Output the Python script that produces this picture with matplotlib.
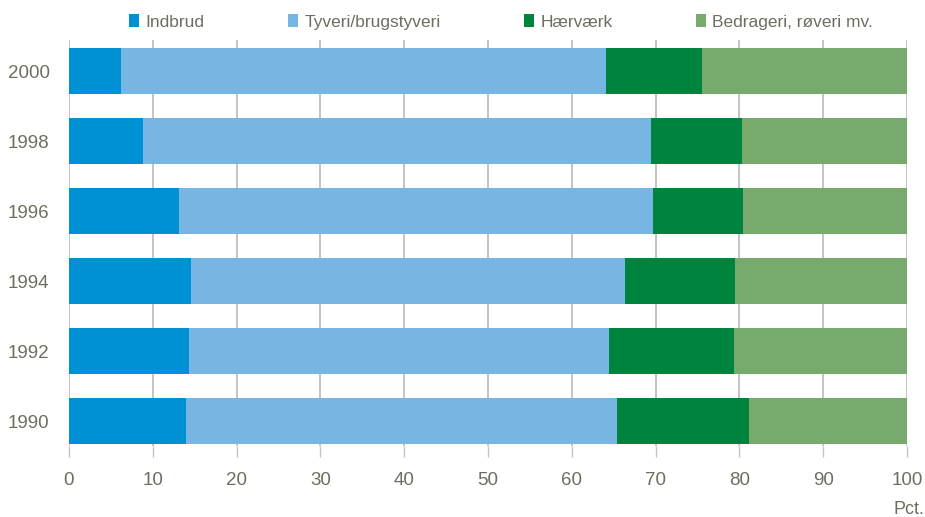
import matplotlib
matplotlib.use("Agg")
import matplotlib.pyplot as plt

years = ["1990", "1992", "1994", "1996", "1998", "2000"]
series_names = ["Indbrud", "Tyveri/brugstyveri", "Hærværk", "Bedrageri, røveri mv."]
indbrud = [14.0, 14.3, 14.6, 13.1, 8.8, 6.2]
tyveri = [51.4, 50.1, 51.7, 56.6, 60.7, 57.9]
haervaerk = [15.7, 15.0, 13.2, 10.7, 10.8, 11.4]
bedrageri = [18.9, 20.6, 20.5, 19.6, 19.7, 24.5]
colors = ["#0090d4", "#77b5e3", "#00843d", "#78aa6e"]
xticks = [0, 10, 20, 30, 40, 50, 60, 70, 80, 90, 100]

plt.rcParams['font.family'] = ['Liberation Sans', 'DejaVu Sans']
txt = "#6e6e60"

fig = plt.figure(figsize=(9.25, 5.17), dpi=100)
ax = fig.add_axes([69/925, (517-446)/517, (907-69)/925, 406/517])

ypos = list(range(len(years)))
left = [0]*len(years)
handles = []
for name, vals, c in zip(series_names, [indbrud, tyveri, haervaerk, bedrageri], colors):
    h = ax.barh(ypos, vals, left=left, height=0.67, color=c, edgecolor="none", label=name, zorder=3)
    handles.append(h)
    left = [l + v for l, v in zip(left, vals)]

ax.set_xlim(0, 100)
ax.set_ylim(-0.357, 5.443)
ax.set_xticks(xticks)
ax.set_xticklabels([str(t) for t in xticks])
ax.set_yticks(ypos)
ax.set_yticklabels(years)
for s in ax.spines.values():
    s.set_visible(False)
ax.grid(axis="x", color="#c4c4c4", linewidth=1.4, zorder=0)
ax.tick_params(axis="x", length=8, width=1.0, color="#c4c4c4", pad=11, labelsize=13.5, labelcolor=txt)
ax.tick_params(axis="y", length=0, pad=14, labelsize=13.5, labelcolor=txt)

fig.text(924/925, 1 - 510/517, "Pct.", ha="right", va="center", fontsize=13, color=txt)

leg = fig.legend(handles=handles, labels=series_names, loc="center left",
                 bbox_to_anchor=(129/925, 1 - 22/517), ncol=4, frameon=False,
                 borderpad=0, borderaxespad=0,
                 fontsize=12.5, handlelength=0.6, handleheight=0.8, handletextpad=0.35,
                 columnspacing=4.8, labelcolor=txt)

fig.savefig("out.png", dpi=100)
